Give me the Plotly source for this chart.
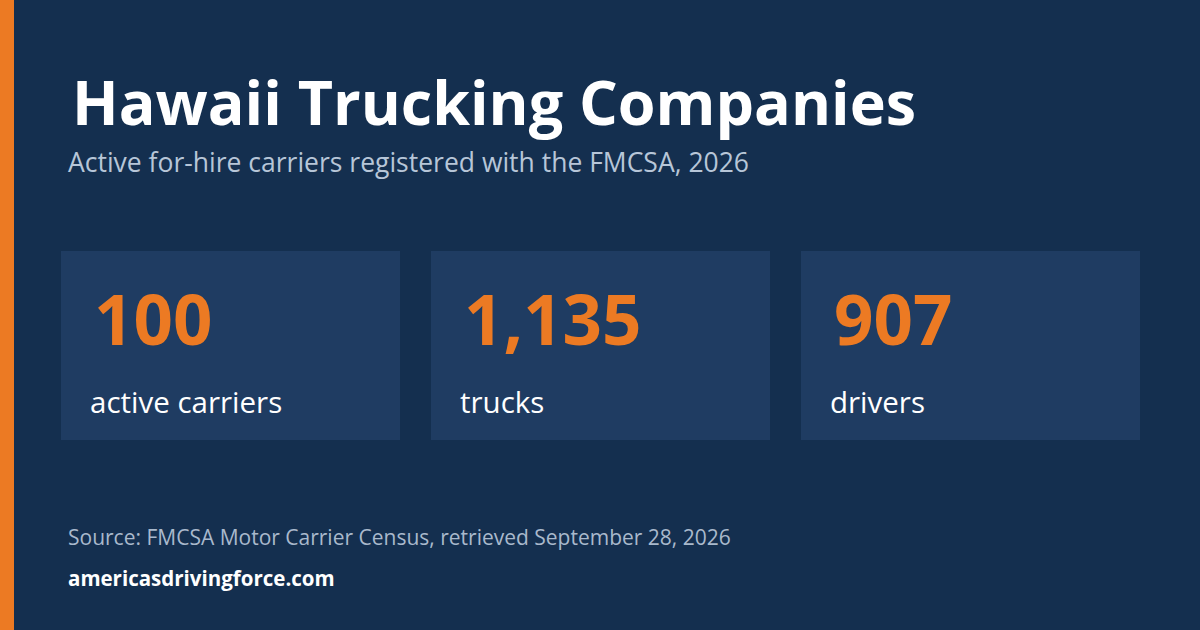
import plotly.graph_objects as go

W, H = 1200, 630
values = ["100", "1,135", "907"]
labels = ["active carriers", "trucks", "drivers"]
title = "Hawaii Trucking Companies"
subtitle = "Active for-hire carriers registered with the FMCSA, 2026"
source = "Source: FMCSA Motor Carrier Census, retrieved September 28, 2026"
site = "americasdrivingforce.com"

BG = "#142f4f"
CARD = "#1f3c62"
ORANGE = "#ec7a23"
FONT = "Open Sans"

def px(x):
    return x / W

def py(y):
    return 1 - y / H

fig = go.Figure()
shapes = [dict(type="rect", xref="paper", yref="paper", x0=0, x1=px(14), y0=0, y1=1,
               fillcolor=ORANGE, line_width=0)]
ann = []
ann.append(dict(x=px(70), y=py(102), text="<b>" + title + "</b>", font=dict(size=61, color="white", family=FONT)))
ann.append(dict(x=px(66), y=py(162), text=subtitle, font=dict(size=26.5, color="#b7c6d8", family=FONT)))
for i, (v, l) in enumerate(zip(values, labels)):
    x0 = 61 + i * 370
    shapes.append(dict(type="rect", xref="paper", yref="paper", x0=px(x0), x1=px(x0 + 339),
                       y0=py(440), y1=py(251), fillcolor=CARD, line_width=0))
    ann.append(dict(x=px(x0 + 31), y=py(318), text="<b>" + v + "</b>", font=dict(size=69, color=ORANGE, family=FONT)))
    ann.append(dict(x=px(x0 + 27), y=py(401), text=l, font=dict(size=29.5, color="white", family=FONT)))
ann.append(dict(x=px(66), y=py(537), text=source, font=dict(size=21, color="#a9b9cc", family=FONT)))
ann.append(dict(x=px(66), y=py(578), text="<b>" + site + "</b>", font=dict(size=20.5, color="white", family=FONT)))
for a in ann:
    a.update(xref="paper", yref="paper", xanchor="left", yanchor="middle", showarrow=False)

fig.update_layout(width=W, height=H, margin=dict(l=0, r=0, t=0, b=0),
                  paper_bgcolor=BG, plot_bgcolor=BG, shapes=shapes, annotations=ann,
                  xaxis=dict(visible=False), yaxis=dict(visible=False))
fig.write_html("out.html", config={"displayModeBar": False},
               post_script="document.body.style.margin='0';document.body.style.overflow='hidden';")
